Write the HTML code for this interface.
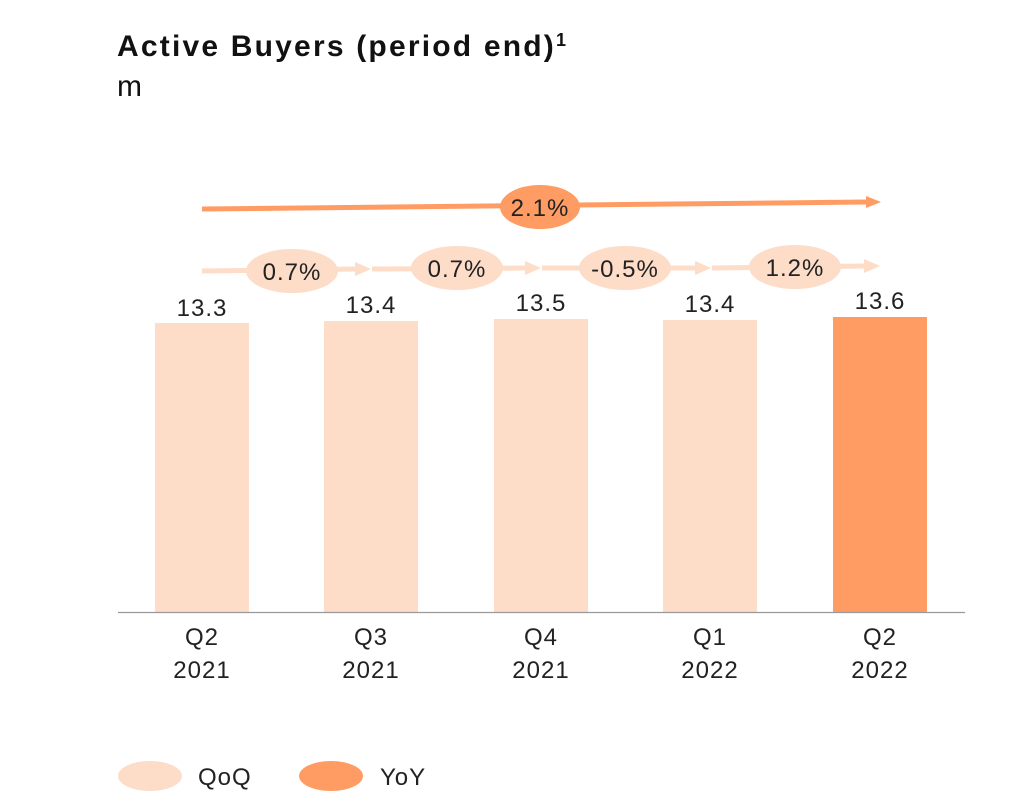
<!DOCTYPE html>
<html><head><style>body{margin:0;background:#fff}svg{display:block}text{font-family:"Liberation Sans",sans-serif}</style></head>
<body>
<svg width="1020" height="808" xmlns="http://www.w3.org/2000/svg">
<text x="117" y="56" font-size="30" font-weight="bold" fill="#111" letter-spacing="2.2">Active Buyers (period end)<tspan font-size="18" dy="-10" letter-spacing="0">1</tspan></text>
<text x="117" y="96" font-size="30" fill="#111">m</text>
<g fill="#FDDCC8">
<rect x="155" y="323" width="94" height="289"/>
<rect x="324" y="321" width="94" height="291"/>
<rect x="494" y="319" width="94" height="293"/>
<rect x="663" y="320" width="94" height="292"/>
</g>
<rect x="833" y="317" width="94" height="295" fill="#FF9C64"/>
<line x1="118" y1="612.5" x2="965" y2="612.5" stroke="#999" stroke-width="1.2"/>
<g font-size="24" fill="#222" text-anchor="middle" letter-spacing="1">
<text x="202" y="316">13.3</text><text x="371" y="313">13.4</text><text x="541" y="311">13.5</text><text x="710" y="312">13.4</text><text x="880" y="309">13.6</text>
<text x="202" y="645">Q2</text><text x="202" y="678">2021</text>
<text x="371" y="645">Q3</text><text x="371" y="678">2021</text>
<text x="541" y="645">Q4</text><text x="541" y="678">2021</text>
<text x="710" y="645">Q1</text><text x="710" y="678">2022</text>
<text x="880" y="645">Q2</text><text x="880" y="678">2022</text>
</g>
<line x1="202" y1="209" x2="866" y2="202" stroke="#FF9C64" stroke-width="5"/>
<polygon points="866,196 881,202 866,208" fill="#FF9C64"/>
<ellipse cx="540" cy="207" rx="40" ry="22" fill="#FF9C64"/>
<text x="540" y="216" font-size="24" fill="#222" text-anchor="middle" letter-spacing="1">2.1%</text>
<g fill="#FDDCC8" stroke="#FDDCC8">
<line x1="202" y1="271" x2="357" y2="269" stroke-width="5"/><polygon points="355,262 371,269 355,276" stroke="none"/>
<line x1="372" y1="269" x2="527" y2="268" stroke-width="5"/><polygon points="525,261 541,268 525,275" stroke="none"/>
<line x1="542" y1="268" x2="697" y2="268" stroke-width="5"/><polygon points="695,261 711,268 695,275" stroke="none"/>
<line x1="712" y1="268" x2="866" y2="266" stroke-width="5"/><polygon points="864,259 880,266 864,273" stroke="none"/>
<ellipse cx="292" cy="271" rx="46" ry="22" stroke="none"/>
<ellipse cx="457" cy="268" rx="46" ry="22" stroke="none"/>
<ellipse cx="625" cy="268" rx="46" ry="22" stroke="none"/>
<ellipse cx="795" cy="267" rx="46" ry="22" stroke="none"/>
</g>
<g font-size="24" fill="#222" text-anchor="middle" letter-spacing="1">
<text x="292" y="280">0.7%</text><text x="457" y="277">0.7%</text><text x="625" y="277">-0.5%</text><text x="795" y="276">1.2%</text>
</g>
<ellipse cx="150" cy="776" rx="32" ry="15" fill="#FDDCC8"/>
<text x="198" y="785" font-size="24" fill="#222" letter-spacing="1">QoQ</text>
<ellipse cx="331" cy="776" rx="32" ry="15" fill="#FF9C64"/>
<text x="380" y="785" font-size="24" fill="#222" letter-spacing="1">YoY</text>
</svg>
</body></html>
